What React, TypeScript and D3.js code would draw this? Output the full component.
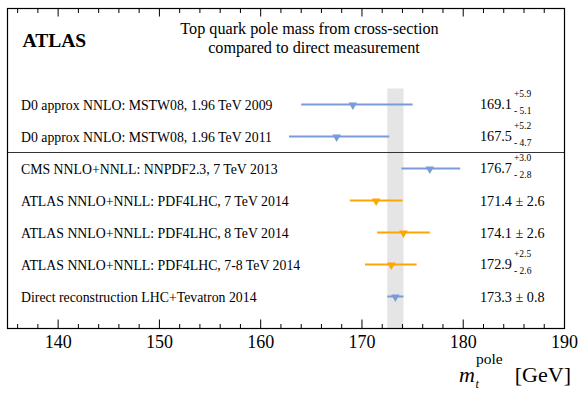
import React from "react";
import * as d3 from "d3";

const labels = [
  "D0 approx NNLO: MSTW08, 1.96 TeV 2009",
  "D0 approx NNLO: MSTW08, 1.96 TeV 2011",
  "CMS NNLO+NNLL: NNPDF2.3, 7 TeV 2013",
  "ATLAS NNLO+NNLL: PDF4LHC, 7 TeV 2014",
  "ATLAS NNLO+NNLL: PDF4LHC, 8 TeV 2014",
  "ATLAS NNLO+NNLL: PDF4LHC, 7-8 TeV 2014",
  "Direct reconstruction LHC+Tevatron 2014",
];
const centrals = [169.1, 167.5, 176.7, 171.4, 174.1, 172.9, 173.3];
const errUp = [5.9, 5.2, 3.0, 2.6, 2.6, 2.5, 0.8];
const errDown = [5.1, 4.7, 2.8, 2.6, 2.6, 2.6, 0.8];
const valueText = ["169.1", "167.5", "176.7", "171.4", "174.1", "172.9", "173.3"];
const upText = ["+5.9", "+5.2", "+3.0", null, null, "+2.5", null];
const downText = ["- 5.1", "- 4.7", "- 2.8", null, null, "- 2.6", null];
const symText = [null, null, null, "± 2.6", "± 2.6", null, "± 0.8"];
const groups = ["other", "other", "other", "atlas", "atlas", "atlas", "direct"];
const bandRange = [172.5, 174.1];
const majorTicks = [140, 150, 160, 170, 180, 190];
const minorTicks = d3.range(136, 190, 2);

const W = 581;
const H = 393;
const ts = { fontFamily: '"Liberation Serif"' };

export default function App() {
  const x = d3.scaleLinear().domain([135, 190]).range([7.5, 564.5]);
  const y = d3.scaleLinear().domain([-3, 7]).range([8.5, 328.5]);
  const color = d3
    .scaleOrdinal<string, string>()
    .domain(["other", "atlas", "direct"])
    .range(["#7b9ad9", "#ffa500", "#7b9ad9"]);
  const x0 = x(135);
  const x1 = x(190);
  const yTop = y(-3);
  const yBot = y(7);
  const tri = d3.symbol().type(d3.symbolTriangle).size(32)();

  return (
    <svg
      width={W}
      height={H}
      style={{ position: "absolute", left: 0, top: 0, background: "#fff" }}
    >
      <rect
        x={x(bandRange[0])}
        y={y(-0.5)}
        width={x(bandRange[1]) - x(bandRange[0])}
        height={yBot - y(-0.5)}
        fill="#e5e5e5"
      />
      <line x1={x0} x2={x1} y1={y(1.5)} y2={y(1.5)} stroke="#333" strokeWidth={1.2} />

      {centrals.map((c, i) => (
        <g key={i}>
          <line
            x1={x(c - errDown[i])}
            x2={x(c + errUp[i])}
            y1={y(i)}
            y2={y(i)}
            stroke={color(groups[i])}
            strokeWidth={2}
          />
          <path
            d={tri}
            transform={`translate(${x(c)},${y(i) + 0.5}) rotate(180)`}
            fill={color(groups[i])}
          />
          <text x={21} y={y(i) + 5} fontSize={13.8} fill="#000" style={ts}>
            {labels[i]}
          </text>
          <text
            x={480}
            y={y(i) + (symText[i] ? 5.5 : 4)}
            fontSize={14.2}
            fill="#000"
            style={ts}
          >
            {valueText[i]}
            {symText[i] ? " " + symText[i] : ""}
          </text>
          {upText[i] && (
            <text x={514} y={y(i) - 7.5} fontSize={9.5} fill="#000" style={ts}>
              {upText[i]}
            </text>
          )}
          {downText[i] && (
            <text x={514} y={y(i) + 9} fontSize={9.5} fill="#000" style={ts}>
              {downText[i]}
            </text>
          )}
        </g>
      ))}

      <rect x={x0} y={yTop} width={x1 - x0} height={yBot - yTop} fill="none" stroke="#000" strokeWidth={1.2} />

      {majorTicks.map((t) => (
        <g key={"M" + t}>
          <line x1={x(t)} x2={x(t)} y1={yBot} y2={yBot - 9} stroke="#000" strokeWidth={1} />
          <line x1={x(t)} x2={x(t)} y1={yTop} y2={yTop + 8} stroke="#000" strokeWidth={1} />
          <text x={x(t)} y={347.5} fontSize={18} textAnchor="middle" fill="#000" style={ts}>
            {t}
          </text>
        </g>
      ))}
      {minorTicks
        .filter((t) => t % 10 !== 0)
        .map((t) => (
          <g key={"m" + t}>
            <line x1={x(t)} x2={x(t)} y1={yBot} y2={yBot - 4.5} stroke="#000" strokeWidth={1} />
            <line x1={x(t)} x2={x(t)} y1={yTop} y2={yTop + 4.5} stroke="#000" strokeWidth={1} />
          </g>
        ))}

      <text x={459} y={381.5} fontSize={22} fontStyle="italic" fill="#000" style={ts}>
        m
      </text>
      <text x={475.5} y={387.5} fontSize={12} fontStyle="italic" fill="#000" style={ts}>
        t
      </text>
      <text x={476} y={364} fontSize={15.5} fill="#000" style={ts}>
        pole
      </text>
      <text x={571} y={381.5} textAnchor="end" fontSize={22} fill="#000" style={ts}>
        [GeV]
      </text>

      <text x={22.5} y={47} fontSize={19.5} fontWeight="bold" fill="#000" style={ts}>
        ATLAS
      </text>
      <text x={309.5} y={34.3} fontSize={16.2} textAnchor="middle" fill="#000" style={ts}>
        Top quark pole mass from cross-section
      </text>
      <text x={314} y={53.3} fontSize={16.2} textAnchor="middle" fill="#000" style={ts}>
        compared to direct measurement
      </text>
    </svg>
  );
}
